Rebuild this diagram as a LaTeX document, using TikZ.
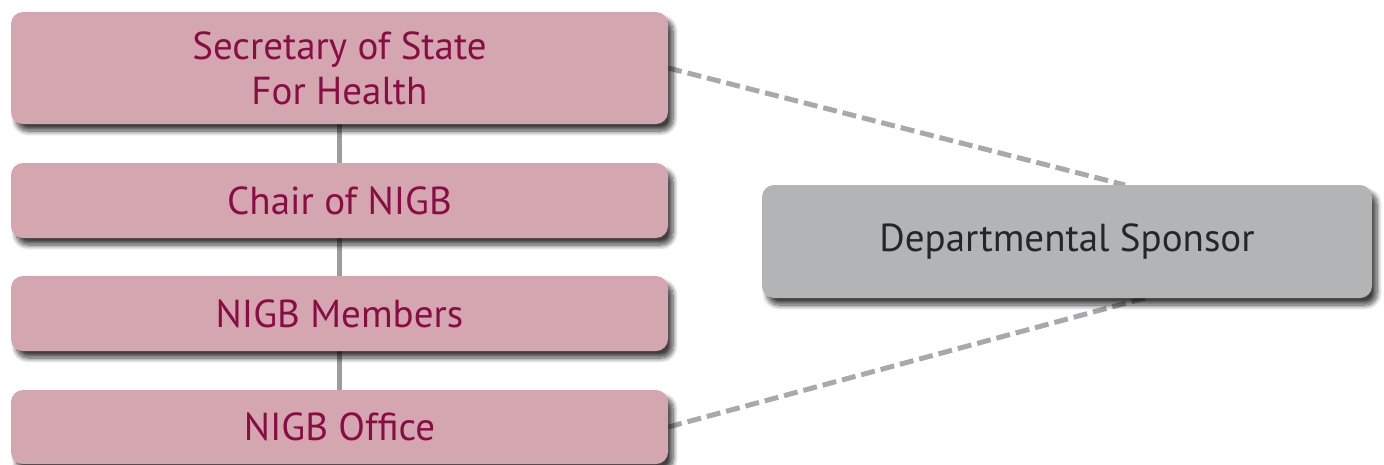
\documentclass[tikz,border=0pt]{standalone}
\usepackage{fontspec}
\setmainfont{PT Sans}
\usetikzlibrary{shadows.blur}
\pgfdeclarelayer{background}
\pgfsetlayers{background,main}
\definecolor{pinkfill}{HTML}{D4A7B0}
\definecolor{maroon}{HTML}{8A0C45}
\definecolor{greyfill}{HTML}{B3B4B6}
\definecolor{linkgrey}{HTML}{9C9C9E}
\definecolor{dashgrey}{HTML}{A9A9AB}
\tikzset{
  box/.style={rounded corners=12pt, inner sep=0pt, align=center,
    blur shadow={shadow xshift=5pt, shadow yshift=-7pt, shadow blur steps=10, shadow opacity=75, shadow blur radius=5pt}},
  pinkbox/.style={box, fill=pinkfill, text=maroon, minimum width=657pt,
    font=\fontsize{39}{45}\selectfont},
  greybox/.style={box, fill=greyfill, text=black!85, minimum width=610pt, minimum height=113pt,
    font=\fontsize{39}{45}\selectfont},
  solidlink/.style={draw=linkgrey, line width=5pt},
  dashlink/.style={draw=dashgrey, line width=5pt, dash pattern=on 14pt off 6pt}
}
\begin{document}
\begin{tikzpicture}[x=1pt,y=-1pt]
\useasboundingbox (0,0) rectangle (1384,464);
\node[pinkbox, minimum height=112pt] (sec) at (339.5,68) {Secretary of State\\For Health};
\node[pinkbox, minimum height=75pt] (chair) at (339.5,200.5) {Chair of NIGB};
\node[pinkbox, minimum height=75pt] (mem) at (339.5,313.5) {NIGB Members};
\node[pinkbox, minimum height=74pt] (off) at (339.5,427) {NIGB Office};
\node[greybox] (dep) at (1067,241.5) {Departmental Sponsor};
\coordinate (deptop) at (1125,185);
\coordinate (depbot) at (1145,298);
\begin{pgfonlayer}{background}
\draw[solidlink] (sec.south) -- (chair.north);
\draw[solidlink] (chair.south) -- (mem.north);
\draw[solidlink] (mem.south) -- (off.north);
\draw[dashlink] (sec.east) -- (deptop);
\draw[dashlink] (off.east) -- (depbot);
\end{pgfonlayer}
\end{tikzpicture}
\end{document}
